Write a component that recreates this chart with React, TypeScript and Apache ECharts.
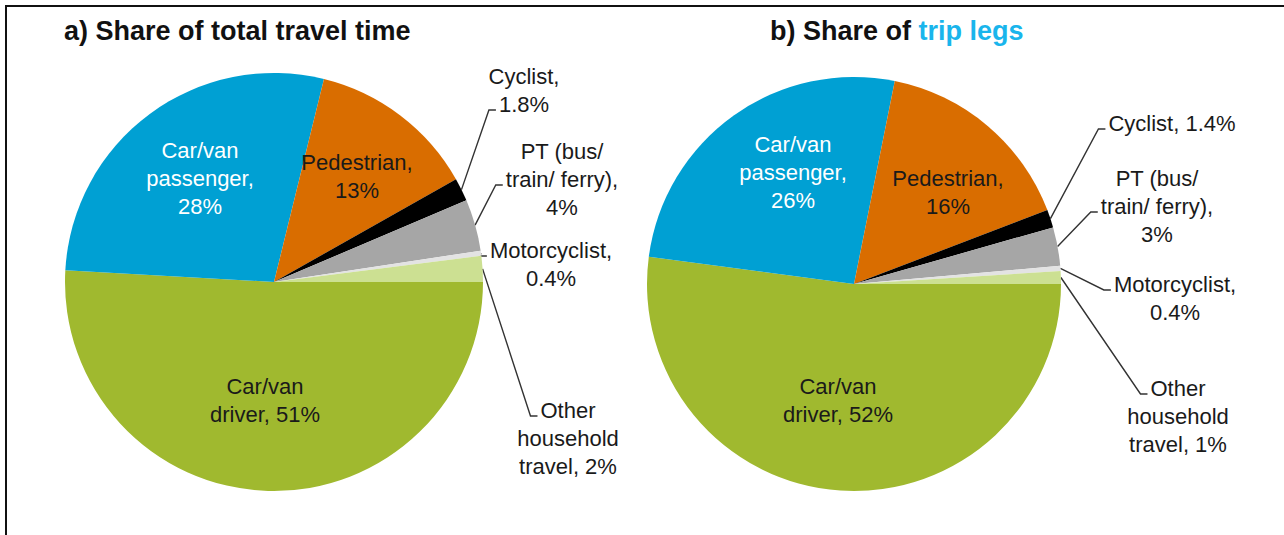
import React, { useEffect, useRef } from "react";
import * as echarts from "echarts";

// ---------- data ----------
const CATEGORIES = [
  "Car/van driver",
  "Car/van passenger",
  "Pedestrian",
  "Cyclist",
  "PT (bus/ train/ ferry)",
  "Motorcyclist",
  "Other household travel",
];
const TRAVEL_TIME = [51, 28, 13, 1.8, 4, 0.4, 2];
const TRIP_LEGS = [52, 26, 16, 1.4, 3, 0.4, 1];

const LABEL_TEXT_A = [
  "Car/van\ndriver, ",
  "Car/van\npassenger,\n",
  "Pedestrian,\n",
  "Cyclist,\n",
  "PT (bus/\ntrain/ ferry),\n",
  "Motorcyclist,\n",
  "Other\nhousehold\ntravel, ",
];
const LABEL_TEXT_B = [
  "Car/van\ndriver, ",
  "Car/van\npassenger,\n",
  "Pedestrian,\n",
  "Cyclist, ",
  "PT (bus/\ntrain/ ferry),\n",
  "Motorcyclist,\n",
  "Other\nhousehold\ntravel, ",
];
const TITLE_A = "a) Share of total travel time";
const TITLE_B_1 = "b) Share of ";
const TITLE_B_2 = "trip legs";

// ---------- styles / layout ----------
const COLORS = ["#A0B92F", "#00A0D3", "#D96D00", "#000000", "#A6A6A6", "#E3E3E3", "#CCE092"];
const INSIDE = [true, true, true, false, false, false, false];
const FONT = '"Liberation Sans", Arial, sans-serif';
const FS = 22;
const LH = 28;

const POS_A = [
  [265, 400],
  [200, 178],
  [357, 176],
  [524, 90],
  [562, 179],
  [551, 264],
  [568, 438],
];
const ATTACH_A = [0, 0, 0, 1, 1, 0, 0];
const POS_B = [
  [838, 400],
  [793, 172],
  [948, 192],
  [1172, 123],
  [1157, 206],
  [1175, 298],
  [1178, 416],
];
const ATTACH_B = [0, 0, 0, 0, 1, 0, 0];

let measureCtx: CanvasRenderingContext2D | null = null;
function measure(t: string): number {
  if (!measureCtx) {
    const c = document.createElement("canvas");
    measureCtx = c.getContext("2d");
  }
  if (!measureCtx) return t.length * FS * 0.5;
  measureCtx.font = `${FS}px "Liberation Sans", Arial, sans-serif`;
  return measureCtx.measureText(t).width;
}

function makeSeries(
  values: number[],
  texts: string[],
  pos: number[][],
  attach: number[],
  center: [number, number],
  radius: number
) {
  const total = values.reduce((a, b) => a + b, 0);
  const fullText = (i: number) => texts[i] + String(values[i]) + "%";
  const edgePoint = (i: number) => {
    let before = 0;
    for (let k = 0; k < i; k++) before += values[k];
    const mid = ((before + values[i] / 2) / total) * Math.PI * 2;
    return [center[0] + radius * Math.cos(mid), center[1] + radius * Math.sin(mid)];
  };
  return {
    type: "pie",
    center,
    radius,
    startAngle: 0,
    clockwise: true,
    avoidLabelOverlap: false,
    silent: true,
    itemStyle: { borderWidth: 0 },
    label: {
      fontSize: FS,
      lineHeight: LH,
      fontFamily: FONT,
      color: "#1a1a1a",
      formatter: (p: any) => fullText(p.dataIndex),
    },
    labelLine: { lineStyle: { color: "#333", width: 1.4 }, length: 20, length2: 8 },
    data: values.map((v, i) => ({
      name: CATEGORIES[i],
      value: v,
      itemStyle: { color: COLORS[i] },
      label: {
        position: INSIDE[i] ? "inside" : "outside",
        color: i === 1 ? "#ffffff" : "#1a1a1a",
      },
      labelLine: { show: !INSIDE[i] },
    })),
    labelLayout: (params: any) => {
      const i = params.dataIndex;
      const [x, y] = pos[i];
      const out: any = { x, y, align: "center", verticalAlign: "middle", hideOverlap: false };
      if (!INSIDE[i]) {
        const lines = fullText(i).split("\n");
        const li = attach[i];
        const top = y - (lines.length * LH) / 2;
        const ay = top + (li + 0.5) * LH + 6;
        const ax = x - measure(lines[li]) / 2 - 3;
        const start =
          params.labelLinePoints && params.labelLinePoints[0]
            ? params.labelLinePoints[0]
            : edgePoint(i);
        out.labelLinePoints = [start, [ax - 7, ay], [ax, ay]];
      }
      return out;
    },
  };
}

export default function App() {
  const ref = useRef<HTMLDivElement>(null);
  useEffect(() => {
    document.body.style.margin = "0";
    if (!ref.current) return;
    const chart = echarts.init(ref.current, undefined, { renderer: "svg" });
    chart.setOption({
      animation: false,
      backgroundColor: "#ffffff",
      title: [
        {
          text: TITLE_A,
          left: 64,
          top: 17,
          padding: 0,
          textStyle: { fontSize: 27, fontWeight: "bold", fontFamily: FONT, color: "#111" },
        },
        {
          text: `{a|${TITLE_B_1}}{b|${TITLE_B_2}}`,
          left: 770,
          top: 17,
          padding: 0,
          textStyle: {
            fontSize: 27,
            fontFamily: FONT,
            rich: {
              a: { fontSize: 27, fontWeight: "bold", fontFamily: FONT, color: "#111" },
              b: { fontSize: 27, fontWeight: "bold", fontFamily: FONT, color: "#19B5EC" },
            },
          },
        },
      ],
      graphic: [
        {
          type: "rect",
          silent: true,
          z: -10,
          shape: { x: 6, y: 6, width: 1400, height: 800 },
          style: { fill: "none", stroke: "#111", lineWidth: 2 },
        },
      ],
      series: [
        makeSeries(TRAVEL_TIME, LABEL_TEXT_A, POS_A, ATTACH_A, [274, 282], 209),
        makeSeries(TRIP_LEGS, LABEL_TEXT_B, POS_B, ATTACH_B, [854, 284], 207),
      ],
    });
    return () => chart.dispose();
  }, []);
  return <div ref={ref} style={{ width: 1284, height: 535 }} />;
}
